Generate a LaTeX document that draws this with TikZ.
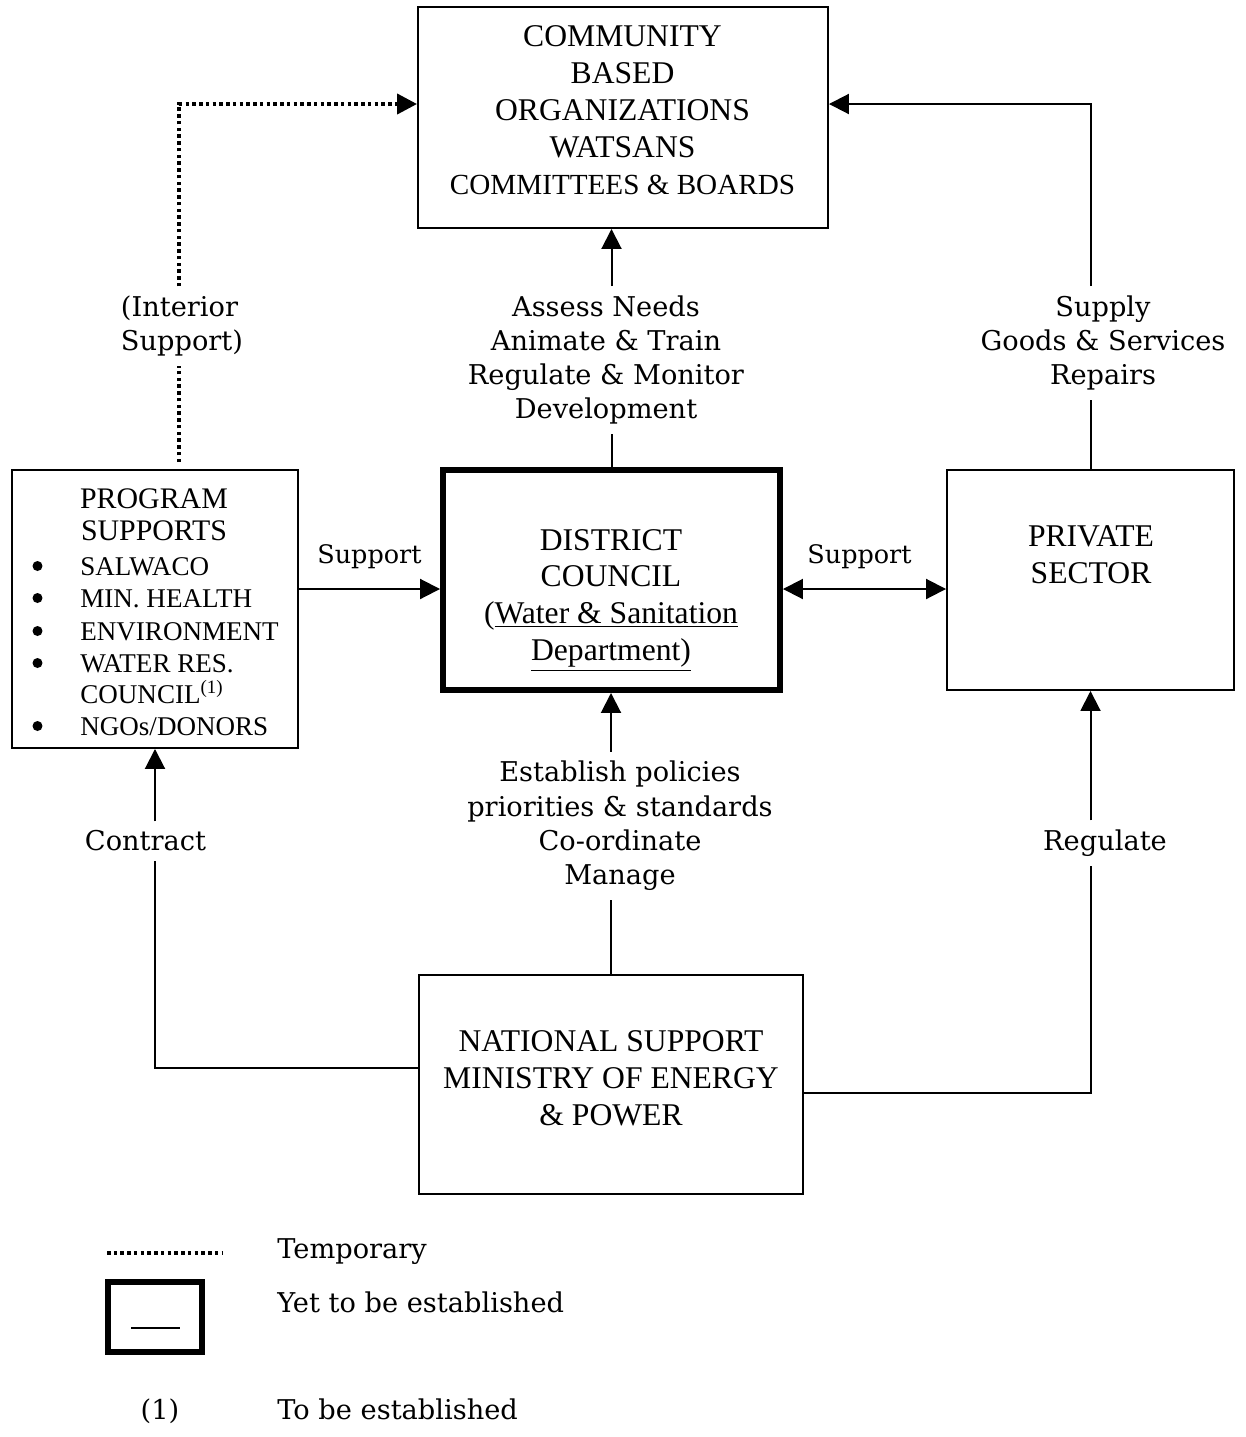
\documentclass[tikz,border=0pt]{standalone}
\usepackage{fontspec}
\setmainfont{Liberation Serif}
\newfontfamily\flowfont{DejaVu Serif}
\usetikzlibrary{arrows.meta}

\begin{document}
\begin{tikzpicture}[x=0.02cm, y=-0.02cm,
 box/.style={draw, line width=0.04cm, inner sep=0},
 newbox/.style={draw, line width=0.12cm, inner sep=0},
 boxtext/.style={align=center, inner sep=0, font=\fontsize{18}{21}\selectfont},
 member/.style={inner sep=0, font=\fontsize{15.4}{18}\selectfont},
 bullet/.style={circle, fill, inner sep=0, minimum size=0.2cm},
 flow/.style={align=center, inner xsep=0, inner ysep=0.18cm, font=\flowfont\fontsize{15.5}{19.5}\selectfont},
 aside/.style={flow, font=\flowfont\fontsize{14.5}{18}\selectfont},
 legend/.style={anchor=base west, inner sep=0, font=\flowfont\fontsize{15.5}{19.5}\selectfont},
 link/.style={line width=0.04cm},
 temp/.style={line width=0.08cm, dash pattern=on 0.07cm off 0.065cm},
 >={Triangle[length=0.4cm, width=0.4cm]}]

\useasboundingbox (0,0) rectangle (1246,1437);

% boxes
\node[box, minimum width=8.2cm, minimum height=4.42cm] (cbo) at (623,117.5) {};
\node[boxtext] (cbotext) at (622.5,110) {COMMUNITY\\BASED\\ORGANIZATIONS\\WATSANS\\{\fontsize{16.6}{19}\selectfont COMMITTEES \& BOARDS}};

\node[box, minimum width=5.72cm, minimum height=5.56cm] (prog) at (155,609) {};
\node[boxtext, font=\fontsize{17}{18.2}\selectfont] (progtitle) at (154,515) {PROGRAM\\SUPPORTS};
\foreach \y/\lbl in {575/SALWACO, 607/MIN. HEALTH, 640/ENVIRONMENT, 672/WATER RES., 735/{NGOs/DONORS}} {
  \node[bullet] (dot\y) at (37.5,\y-9) {};
  \node[member, anchor=base west] (item\y) at (80,\y) {\lbl};
}
\node[member, anchor=base west] (item703) at (80,703) {COUNCIL\textsuperscript{(1)}};

\node[newbox, minimum width=6.74cm, minimum height=4.4cm] (dc) at (611.5,580) {};
\node[boxtext] (dctext) at (611,600) {DISTRICT\\COUNCIL\\(\underline{Water \& Sanitation}\\\underline{Department)}};

\node[box, minimum width=5.74cm, minimum height=4.4cm] (priv) at (1090.5,580) {};
\node[boxtext] (privtext) at (1091,554.5) {PRIVATE\\SECTOR};

\node[box, minimum width=7.68cm, minimum height=4.38cm] (nat) at (611,1084.5) {};
\node[boxtext] (nattext) at (611,1078) {NATIONAL SUPPORT\\MINISTRY OF ENERGY\\\& POWER};

% labels on the links
\node[flow] (needs) at (606,360) {Assess Needs\\Animate \& Train\\Regulate \& Monitor\\Development};
\node[flow] (supply) at (1103,343) {Supply\\Goods \& Services\\Repairs};
\node[flow, align=left] (interior) at (182,326) {(Interior\\Support)};
\node[flow] (policy) at (620,826) {Establish policies\\priorities \& standards\\Co-ordinate\\Manage};
\node[flow] (contract) at (145.5,841) {Contract};
\node[flow] (regulate) at (1105,843) {Regulate};
\node[aside] (supleft) at (369.5,557) {Support};
\node[aside] (supright) at (859.5,557) {Support};

% links
\coordinate (row) at (0,589);
\coordinate (tempfoot) at (179,462);

\draw[link] (dc.north) -- (needs.south -| dc.north);
\draw[link,->] (needs.north -| dc.north) -- (cbo.south -| dc.north);

\draw[link] (priv.north) -- (supply.south -| priv.north);
\draw[link,->] (supply.north -| priv.north) |- ([yshift=0.27cm]cbo.east);

\draw[temp] (tempfoot) -- (tempfoot |- interior.south);
\draw[temp,->] (tempfoot |- interior.north) |- ([yshift=0.27cm]cbo.west);

\draw[link,->] (prog.east |- row) -- (dc.west |- row);
\draw[link,<->] (dc.east |- row) -- (priv.west |- row);

\draw[link] (nat.north) -- (policy.south -| nat.north);
\draw[link,->] (policy.north -| nat.north) -- (dc.south -| nat.north);

\draw[link] ([yshift=0.33cm]nat.west) -| (contract.south -| prog.south);
\draw[link,->] (contract.north -| prog.south) -- (prog.south);

\draw[link] ([yshift=-0.17cm]nat.east) -| (regulate.south -| priv.south);
\draw[link,->] (regulate.north -| priv.south) -- (priv.south);

% legend
\coordinate (tempa) at (107,1253);
\coordinate (tempb) at (222,1253);
\draw[temp] (tempa) -- (tempb);
\node[legend] (tempkey) at (277,1258) {Temporary};
\node[newbox, minimum width=1.9cm, minimum height=1.4cm] (newkey) at (155,1316.5) {};
\draw[link] ([xshift=-0.48cm, yshift=-0.23cm]newkey.center) -- ([xshift=0.5cm, yshift=-0.23cm]newkey.center);
\node[legend] (newtext) at (277,1312) {Yet to be established};
\node[legend, anchor=base] (notemark) at (160,1419) {(1)};
\node[legend] (notetext) at (277,1419) {To be established};
\end{tikzpicture}
\end{document}
